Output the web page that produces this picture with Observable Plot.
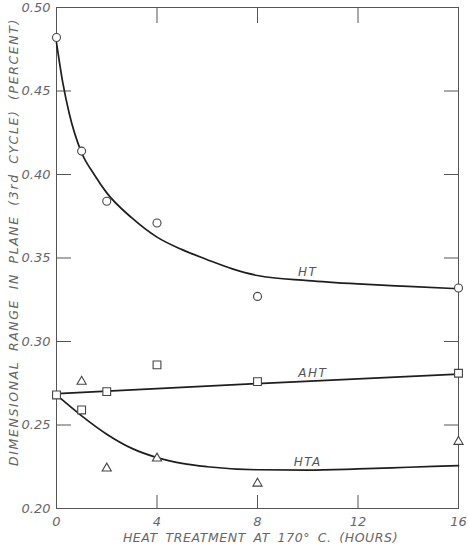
<!DOCTYPE html>
<html><head><meta charset="utf-8">
<script src="https://cdn.jsdelivr.net/npm/d3@7"></script>
<script src="https://cdn.jsdelivr.net/npm/@observablehq/plot@0.6"></script>
<style>
body{margin:0;background:#fff}
</style>
</head><body><div id="chart"></div>
<script>
// measured points
const htHours = [0, 1, 2, 4, 8, 16];
const htValues = [0.482, 0.414, 0.384, 0.371, 0.327, 0.332];
const ahtHours = [0, 1, 2, 4, 8, 16];
const ahtValues = [0.268, 0.259, 0.270, 0.286, 0.276, 0.281];
const htaHours = [1, 2, 4, 8, 16];
const htaValues = [0.276, 0.224, 0.230, 0.215, 0.240];
// fitted curves as drawn
const htCurveHours = [0, 0.25, 0.5, 1, 1.5, 2, 3, 4, 5, 6, 7, 8, 10, 12, 14, 16];
const htCurveValues = [0.479, 0.455, 0.437, 0.413, 0.400, 0.389, 0.374, 0.3625, 0.355, 0.349, 0.3435, 0.3395, 0.3365, 0.3345, 0.333, 0.3316];
const ahtCurveHours = [0, 8, 16];
const ahtCurveValues = [0.2687, 0.2748, 0.2805];
const htaCurveHours = [0, 1, 2, 3, 4, 5, 6, 8, 10, 12, 14, 16];
const htaCurveValues = [0.268, 0.2555, 0.2445, 0.236, 0.2305, 0.227, 0.225, 0.2232, 0.223, 0.2237, 0.2247, 0.2257];
// curve labels
const curveLabels = ["HT", "AHT", "HTA"];
const labelHours = [10.0, 10.2, 10.0];
const labelValues = [0.3415, 0.281, 0.2275];
// ticks
const xTickValues = [0, 4, 8, 12, 16];
const xInnerTicks = [4, 8, 12];
const yTickValues = [0.20, 0.25, 0.30, 0.35, 0.40, 0.45, 0.50];
const yInnerTicks = [0.25, 0.30, 0.35, 0.40, 0.45];
const xTitle = "HEAT TREATMENT AT 170° C. (HOURS)";
const yTitle = "DIMENSIONAL RANGE IN PLANE (3rd CYCLE) (PERCENT)";

const zip = (xs, ys) => xs.map((x, i) => ({x, y: ys[i]}));
const ht = zip(htHours, htValues), aht = zip(ahtHours, ahtValues), hta = zip(htaHours, htaValues);
const htC = zip(htCurveHours, htCurveValues), ahtC = zip(ahtCurveHours, ahtCurveValues), htaC = zip(htaCurveHours, htaCurveValues);
const labels = curveLabels.map((t, i) => ({t, x: labelHours[i], y: labelValues[i]}));

const lineStyle = {x: "x", y: "y", stroke: "#1e1e1e", strokeWidth: 1.7, curve: "monotone-x"};
const dotStyle = {x: "x", y: "y", fill: "white", stroke: "#444", strokeWidth: 1.1};

const chart = Plot.plot({
  width: 468, height: 550,
  marginLeft: 56, marginRight: 10, marginTop: 7, marginBottom: 42,
  style: {fontFamily: "'DejaVu Sans', sans-serif", fontStyle: "italic", fontSize: "12px", color: "#666", background: "white"},
  x: {domain: [0, 16]},
  y: {domain: [0.20, 0.50]},
  marks: [
    Plot.frame({stroke: "#555", strokeWidth: 1}),
    Plot.axisX(xInnerTicks, {anchor: "bottom", tickSize: -13, tickFormat: () => "", label: null, stroke: "#555"}),
    Plot.axisX(xInnerTicks, {anchor: "top", tickSize: -15, tickFormat: () => "", label: null, stroke: "#555"}),
    Plot.axisY(yInnerTicks, {anchor: "left", tickSize: -15, tickFormat: () => "", label: null, stroke: "#555"}),
    Plot.axisY(yInnerTicks, {anchor: "right", tickSize: -15, tickFormat: () => "", label: null, stroke: "#555"}),
    Plot.axisX(xTickValues, {anchor: "bottom", tickSize: 0, tickPadding: 8, label: null, fill: "#666", fontSize: 13}),
    Plot.axisY(yTickValues, {anchor: "left", tickSize: 0, tickPadding: 6, label: null, tickFormat: d3.format(".2f"), fill: "#666", fontSize: 13}),
    Plot.line(htC, lineStyle),
    Plot.line(ahtC, lineStyle),
    Plot.line(htaC, lineStyle),
    Plot.dot(ht, {...dotStyle, r: 4, symbol: "circle"}),
    Plot.dot(aht, {...dotStyle, r: 4.4, symbol: "square"}),
    Plot.dot(hta, {...dotStyle, r: 3.4, symbol: "triangle"}),
    Plot.text(labels, {x: "x", y: "y", text: "t", fill: "#555", fontSize: 12}),
    Plot.text([yTitle], {text: d => d, frameAnchor: "left", textAnchor: "middle", rotate: -90, dx: -43, dy: -16, fill: "#666", fontSize: 12.5}),
    Plot.text([xTitle], {text: d => d, frameAnchor: "bottom", dy: 33, dx: 3, fill: "#666", fontSize: 12.5})
  ]
});
const sel = d3.select(chart).selectAll("text");
sel.filter(function() { return this.textContent === yTitle; }).style("letter-spacing", "1.6px").style("word-spacing", "4px");
sel.filter(function() { return this.textContent === xTitle; }).style("letter-spacing", "0.6px").style("word-spacing", "3px");
sel.filter(function() { return curveLabels.includes(this.textContent); }).style("letter-spacing", "1.5px");
document.getElementById("chart").appendChild(chart);
</script>
</body></html>
